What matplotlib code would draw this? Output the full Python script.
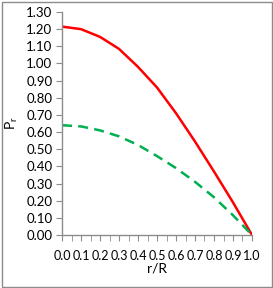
import matplotlib
matplotlib.use("Agg")
import matplotlib.pyplot as plt
from matplotlib.patches import Rectangle
import numpy as np

r_over_R = [0.0, 0.1, 0.2, 0.3, 0.4, 0.5, 0.6, 0.7, 0.8, 0.9, 1.0]
pr_solid = [1.215, 1.20, 1.155, 1.085, 0.98, 0.86, 0.71, 0.545, 0.37, 0.19, 0.0]
pr_dashed = [0.64, 0.633, 0.61, 0.575, 0.525, 0.46, 0.39, 0.31, 0.22, 0.115, 0.0]
x_ticks = [0.0, 0.1, 0.2, 0.3, 0.4, 0.5, 0.6, 0.7, 0.8, 0.9, 1.0]
y_ticks = [0.0, 0.1, 0.2, 0.3, 0.4, 0.5, 0.6, 0.7, 0.8, 0.9, 1.0, 1.1, 1.2, 1.3]

plt.rcParams['font.family'] = ['Lato', 'DejaVu Sans']
W, H = 273, 288
fig = plt.figure(figsize=(W/100, H/100), dpi=100)
fig.patches.append(Rectangle((1.5/W, 1.5/H), (W-3)/W, (H-3)/H, transform=fig.transFigure,
                             fill=False, edgecolor='#8c8c8c', linewidth=1.0))
ax = fig.add_axes([62/W, 1-235/H, 190/W, 223/H])
ax.plot(r_over_R, pr_solid, color='#ff0000', lw=1.8)
ax.plot(r_over_R, pr_dashed, color='#00b050', lw=1.8, dashes=(4, 2.5))
ax.set_xlim(0, 1.0)
ax.set_ylim(0, 1.3)
ax.set_xticks(x_ticks)
ax.set_xticklabels([f"{v:.1f}" for v in x_ticks])
ax.set_xticks(np.arange(0, 1.0001, 0.05), minor=True)
ax.set_yticks(y_ticks)
ax.set_yticklabels([f"{v:.2f}" for v in y_ticks])
for s in ['top', 'right']:
    ax.spines[s].set_visible(False)
for s in ['left', 'bottom']:
    ax.spines[s].set_color('#8c8c8c')
    ax.spines[s].set_linewidth(1.0)
ax.tick_params(axis='both', which='both', color='#8c8c8c', direction='out', labelcolor='black')
ax.tick_params(axis='y', labelsize=9.5)
ax.tick_params(axis='x', labelsize=9)
ax.tick_params(axis='both', which='major', length=4, pad=3)
ax.tick_params(axis='x', which='minor', length=4)
ax.tick_params(axis='x', pad=7)
ax.set_xlabel("r/R", fontsize=10, labelpad=0)
ax.set_ylabel(r"P$_\mathregular{r}$", fontsize=10, labelpad=4)
fig.savefig("out.png", dpi=100)
